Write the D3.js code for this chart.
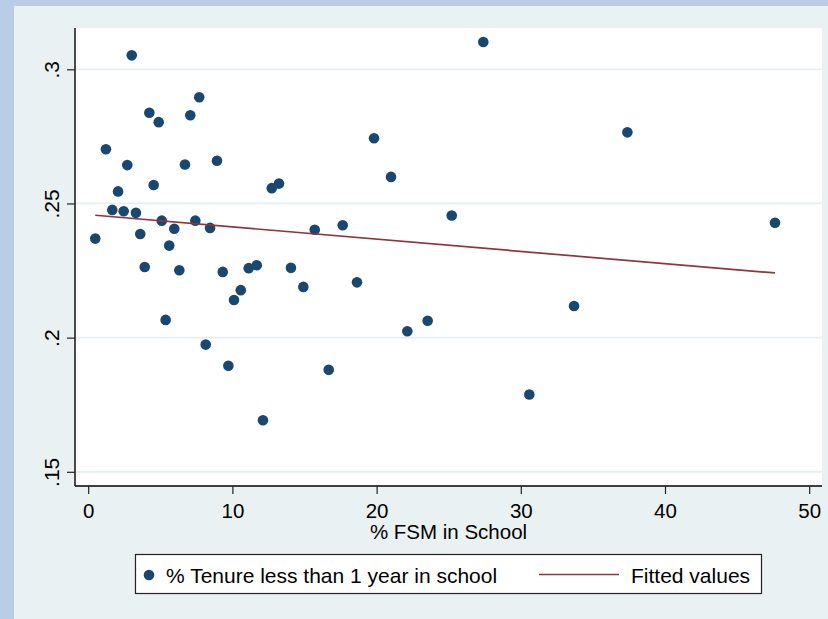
<!DOCTYPE html>
<html>
<head>
<meta charset="utf-8">
<script src="https://cdn.jsdelivr.net/npm/d3@7"></script>
<style>
  body { margin: 0; background: #b9cde5; }
  svg { display: block; font-family: Arial, "Liberation Sans", sans-serif; }
</style>
</head>
<body>
<div id="chart"></div>
<script>
const w = 828;
const h = 619;

// % FSM in School
const fsm = [0.49, 1.23, 1.67, 2.07, 2.46, 2.71, 3.02, 3.31, 3.61, 3.92,
             4.24, 4.54, 4.89, 5.10, 5.37, 5.62, 5.97, 6.32, 6.71, 7.08,
             7.43, 7.70, 8.15, 8.45, 8.93, 9.33, 9.72, 10.11, 10.58, 11.13,
             11.69, 12.12, 12.73, 13.23, 14.06, 14.92, 15.71, 16.68, 17.65, 18.64,
             19.82, 21.00, 22.13, 23.54, 25.21, 27.40, 30.59, 33.69, 37.39, 47.63];
// % Tenure less than 1 year in school
const tenure = [0.2369, 0.2702, 0.2476, 0.2545, 0.2471, 0.2643, 0.3052, 0.2465, 0.2386, 0.2263,
                0.2838, 0.2569, 0.2803, 0.2436, 0.2066, 0.2343, 0.2406, 0.2251, 0.2645, 0.2829,
                0.2436, 0.2896, 0.1974, 0.2409, 0.2659, 0.2245, 0.1895, 0.2140, 0.2177, 0.2259,
                0.2270, 0.1692, 0.2557, 0.2574, 0.2260, 0.2189, 0.2402, 0.1880, 0.2419, 0.2206,
                0.2743, 0.2599, 0.2024, 0.2063, 0.2455, 0.3102, 0.1788, 0.2118, 0.2765, 0.2428];
// fitted values line ends
const fitX = [0.49, 47.63];
const fitY = [0.2456, 0.2241];

const xTicks = [0, 10, 20, 30, 40, 50];
const yTicks = [0.15, 0.2, 0.25, 0.3];
const yLabels = [".15", ".2", ".25", ".3"];

const navy = "#1a476f";
const maroon = "#90353b";

const plot = {left: 75, right: 822, top: 28, bottom: 486};

const xScale = d3.scaleLinear().domain([0, 50]).range([88.2, 809.2]);
const yScale = d3.scaleLinear().domain([0.15, 0.3]).range([471.8, 69.3]);

const svg = d3.select("#chart").append("svg")
    .attr("width", w)
    .attr("height", h);

// graph region
svg.append("rect").attr("x", 0).attr("y", 0).attr("width", w).attr("height", h).attr("fill", "#b9cde5");
svg.append("rect").attr("x", 14).attr("y", 6).attr("width", w - 14).attr("height", h - 6).attr("fill", "#eaf1f3");

// plot region
svg.append("rect")
    .attr("x", plot.left).attr("y", plot.top)
    .attr("width", plot.right - plot.left).attr("height", plot.bottom - plot.top)
    .attr("fill", "#ffffff");

// gridlines
svg.append("g").selectAll("line")
    .data(yTicks)
    .enter().append("line")
    .attr("x1", plot.left).attr("x2", plot.right)
    .attr("y1", d => yScale(d)).attr("y2", d => yScale(d))
    .attr("stroke", "#e6eef1")
    .attr("stroke-width", 1.8);

// y axis
let yAxis = d3.axisLeft(yScale)
    .tickValues(yTicks)
    .tickSize(8)
    .tickFormat((d, i) => yLabels[i]);

const gy = svg.append("g")
    .attr("transform", "translate(" + plot.left + ",0)")
    .call(yAxis);
gy.select(".domain").attr("d", "M0," + plot.top + "V" + plot.bottom).attr("stroke", "#000").attr("stroke-width", 1.4);
gy.selectAll(".tick line").attr("stroke", "#222").attr("stroke-width", 1.2);
gy.selectAll(".tick text")
    .attr("x", 0).attr("y", 0).attr("dy", null)
    .attr("transform", "translate(-16,0) rotate(-90)")
    .attr("text-anchor", "middle")
    .attr("font-size", 21)
    .attr("fill", "#000");

// x axis
let xAxis = d3.axisBottom(xScale)
    .tickValues(xTicks)
    .tickSize(8)
    .tickFormat(d3.format("d"));

const gx = svg.append("g")
    .attr("transform", "translate(0," + plot.bottom + ")")
    .call(xAxis);
gx.select(".domain").attr("d", "M" + plot.left + ",0H" + plot.right).attr("stroke", "#000").attr("stroke-width", 1.4);
gx.selectAll(".tick line").attr("stroke", "#222").attr("stroke-width", 1.2);
gx.selectAll(".tick text")
    .attr("y", 31.5).attr("dy", null)
    .attr("font-size", 20.5)
    .attr("fill", "#000");

svg.append("text")
    .attr("x", (plot.left + plot.right) / 2)
    .attr("y", 538.5)
    .attr("text-anchor", "middle")
    .attr("font-size", 20.5)
    .text("% FSM in School");

// points
svg.append("g").selectAll("circle")
    .data(fsm)
    .enter().append("circle")
    .attr("cx", d => xScale(d))
    .attr("cy", (d, i) => yScale(tenure[i]))
    .attr("r", 5.3)
    .attr("fill", navy);

// fitted line
const line = d3.line()
    .x(d => xScale(d[0]))
    .y(d => yScale(d[1]));

svg.append("path")
    .datum(fitX.map((x, i) => [x, fitY[i]]))
    .attr("d", line)
    .attr("fill", "none")
    .attr("stroke", maroon)
    .attr("stroke-width", 1.7);

// legend
const legend = svg.append("g");
legend.append("rect")
    .attr("x", 135.5).attr("y", 554.5)
    .attr("width", 626).attr("height", 39)
    .attr("fill", "#fff")
    .attr("stroke", "#222")
    .attr("stroke-width", 1.2);
legend.append("circle")
    .attr("cx", 149).attr("cy", 575).attr("r", 5.3).attr("fill", navy);
legend.append("text")
    .attr("x", 166).attr("y", 583)
    .attr("font-size", 21)
    .text("% Tenure less than 1 year in school");
legend.append("line")
    .attr("x1", 539).attr("x2", 619).attr("y1", 574.5).attr("y2", 574.5)
    .attr("stroke", maroon).attr("stroke-width", 1.7);
legend.append("text")
    .attr("x", 631).attr("y", 583)
    .attr("font-size", 21)
    .text("Fitted values");
</script>
</body>
</html>
